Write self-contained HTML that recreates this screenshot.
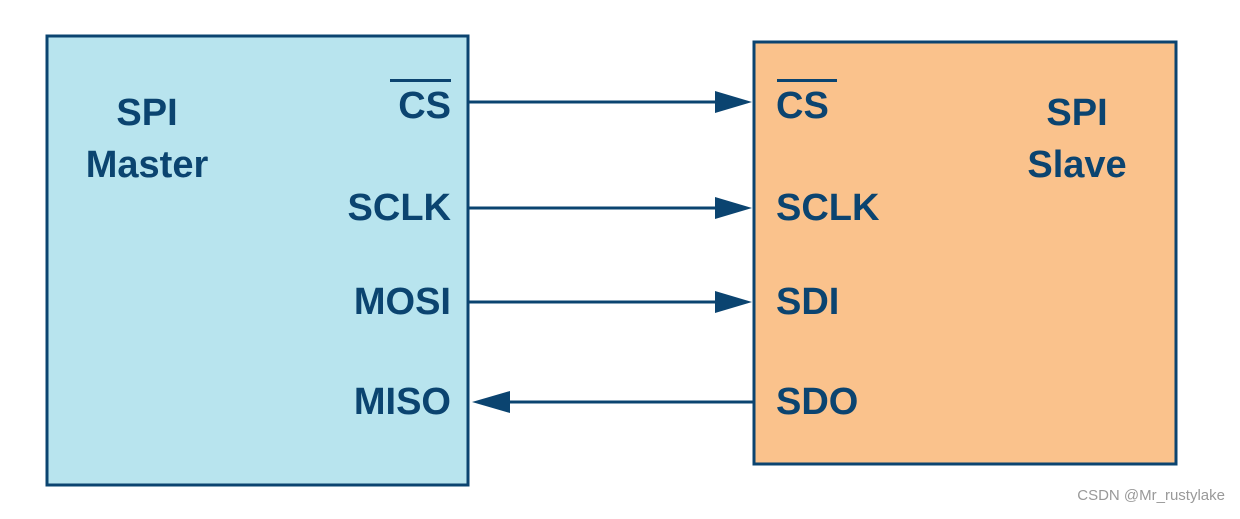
<!DOCTYPE html>
<html><head><meta charset="utf-8"><style>
body{margin:0;background:#fff;}
</style></head><body>
<svg width="1240" height="514" viewBox="0 0 1240 514" xmlns="http://www.w3.org/2000/svg" font-family="Liberation Sans, Arial, sans-serif" font-weight="bold" fill="#0b4470">
<rect x="47" y="36" width="421" height="449" fill="#b8e4ee" stroke="#0b4470" stroke-width="3"/>
<rect x="754" y="42" width="422" height="422" fill="#fac28c" stroke="#0b4470" stroke-width="3"/>
<g font-size="38">
<text x="147" y="125" text-anchor="middle">SPI</text>
<text x="147" y="177" text-anchor="middle">Master</text>
<text x="451" y="118" text-anchor="end">CS</text>
<text x="451" y="220" text-anchor="end">SCLK</text>
<text x="451" y="314" text-anchor="end">MOSI</text>
<text x="451" y="414" text-anchor="end">MISO</text>
<text x="1077" y="125" text-anchor="middle">SPI</text>
<text x="1077" y="177" text-anchor="middle">Slave</text>
<text x="776" y="118">CS</text>
<text x="776" y="220">SCLK</text>
<text x="776" y="314">SDI</text>
<text x="776" y="414">SDO</text>
</g>
<rect x="390" y="79" width="61" height="3"/>
<rect x="777" y="79" width="60" height="3"/>
<g stroke="#0b4470" stroke-width="3">
<line x1="469" y1="102" x2="720" y2="102"/>
<line x1="469" y1="208" x2="720" y2="208"/>
<line x1="469" y1="302" x2="720" y2="302"/>
<line x1="505" y1="402" x2="754" y2="402"/>
</g>
<polygon points="715,91 752,102 715,113"/>
<polygon points="715,197 752,208 715,219"/>
<polygon points="715,291 752,302 715,313"/>
<polygon points="510,391 472,402 510,413"/>
<text x="1225" y="500" text-anchor="end" font-size="15" font-weight="normal" fill="#999">CSDN @Mr_rustylake</text>
</svg>
</body></html>
